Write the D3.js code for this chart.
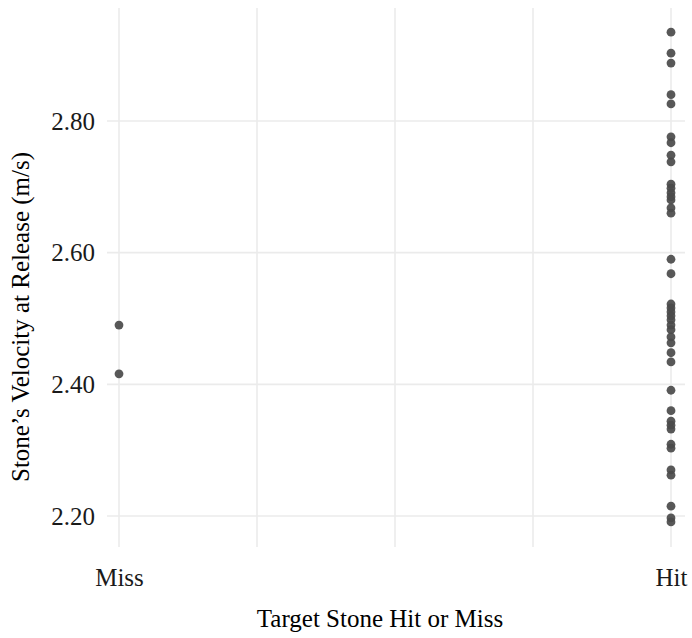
<!DOCTYPE html>
<html><head><meta charset="utf-8">
<script src="https://cdn.jsdelivr.net/npm/d3@7"></script>
<style>body{margin:0;background:#fff}</style>
</head><body>
<svg id="c" width="692" height="638"></svg>
<script>
const categories = ["Miss", "Hit"];
const missValues = [2.490, 2.416];
const hitValues = [2.935, 2.903, 2.888, 2.840, 2.826, 2.776, 2.767, 2.748, 2.738, 2.704, 2.698, 2.691, 2.685, 2.680, 2.668, 2.660, 2.590, 2.568, 2.522, 2.516, 2.510, 2.504, 2.498, 2.490, 2.483, 2.472, 2.463, 2.448, 2.434, 2.391, 2.360, 2.344, 2.338, 2.332, 2.309, 2.303, 2.270, 2.262, 2.215, 2.197, 2.191];
const yTicks = [2.2, 2.4, 2.6, 2.8];
const xGrid = [0, 0.25, 0.5, 0.75, 1];

const svg = d3.select("#c");
const panel = {left: 107, right: 685, top: 8, bottom: 547};
const x = d3.scaleLinear().domain([0, 1]).range([119, 671]);
const y = d3.scaleLinear().domain([2.2, 2.8]).range([516, 121]);
const font = "'Liberation Serif', 'Times New Roman', serif";
const fs = 25;

const g = svg.append("g");
g.selectAll(".hg").data(yTicks).join("line")
  .attr("x1", panel.left).attr("x2", panel.right)
  .attr("y1", d => y(d)).attr("y2", d => y(d))
  .attr("stroke", "#ebebeb").attr("stroke-width", 1.6);
g.selectAll(".vg").data(xGrid).join("line")
  .attr("x1", d => x(d)).attr("x2", d => x(d))
  .attr("y1", panel.top).attr("y2", panel.bottom)
  .attr("stroke", "#ebebeb").attr("stroke-width", 1.6);

const yAxis = d3.axisLeft(y).tickValues(yTicks).tickFormat(d3.format(".2f")).tickSize(0).tickPadding(12);
const ya = svg.append("g").attr("transform", `translate(${panel.left},0)`).call(yAxis);
ya.select(".domain").remove();
ya.selectAll("text").attr("font-family", font).attr("font-size", fs).attr("fill", "#1a1a1a");

const xAxis = d3.axisBottom(x).tickValues([0, 1]).tickFormat((d, i) => categories[i]).tickSize(0).tickPadding(21);
const xa = svg.append("g").attr("transform", `translate(0,${panel.bottom})`).call(xAxis);
xa.select(".domain").remove();
xa.selectAll("text").attr("font-family", font).attr("font-size", fs).attr("fill", "#1a1a1a");

const pts = missValues.map(v => ({c: 0, v})).concat(hitValues.map(v => ({c: 1, v})));
svg.append("g").selectAll("circle").data(pts).join("circle")
  .attr("cx", d => x(d.c)).attr("cy", d => y(d.v)).attr("r", 4.4)
  .attr("fill", "#4a4a4a").attr("fill-opacity", 0.92);

svg.append("text").attr("x", 380).attr("y", 627)
  .attr("text-anchor", "middle").attr("font-family", font).attr("font-size", fs).attr("fill", "#000")
  .text("Target Stone Hit or Miss");
svg.append("text").attr("transform", `translate(29,317) rotate(-90)`)
  .attr("text-anchor", "middle").attr("font-family", font).attr("font-size", fs).attr("fill", "#000")
  .text("Stone’s Velocity at Release (m/s)");
</script>
</body></html>
